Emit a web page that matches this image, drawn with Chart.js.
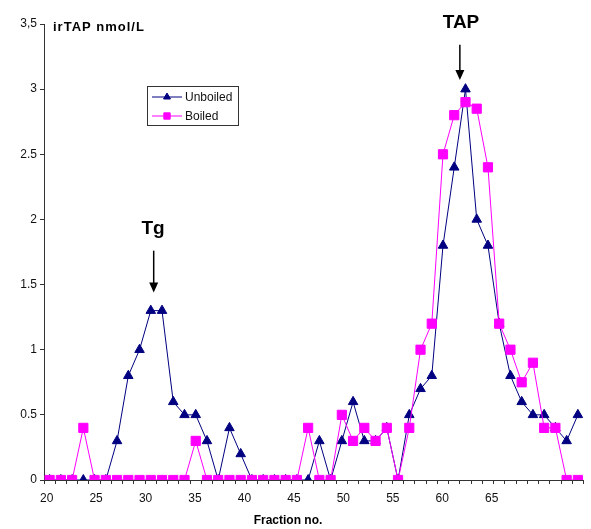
<!DOCTYPE html>
<html>
<head>
<meta charset="utf-8">
<script src="https://cdn.jsdelivr.net/npm/chart.js@4.4.1/dist/chart.umd.min.js"></script>
<style>
  body { margin: 0; background: #fff; }
  #wrap { width: 591px; height: 529px; position: relative; }
</style>
</head>
<body>
<div id="wrap"><canvas id="fractionChart"></canvas></div>
<script>
const fractions = [20, 21, 22, 23, 24, 25, 26, 27, 28, 29, 30, 31, 32, 33, 34, 35,
    36, 37, 38, 39, 40, 41, 42, 43, 44, 45, 46, 47, 48, 49, 50, 51,
    52, 53, 54, 55, 56, 57, 58, 59, 60, 61, 62, 63, 64, 65, 66, 67];
const unboiled = [0, 0, 0, 0, 0, 0, 0.3, 0.8, 1.0, 1.3, 1.3, 0.6, 0.5, 0.5, 0.3, 0,
    0.4, 0.2, 0, 0, 0, 0, 0, 0, 0.3, 0, 0.3, 0.6, 0.3, 0.3, 0.4, 0,
    0.5, 0.7, 0.8, 1.8, 2.4, 3.0, 2.0, 1.8, 1.2, 0.8, 0.6, 0.5, 0.5, 0.4, 0.3, 0.5];
const boiled = [0, 0, 0, 0.4, 0, 0, 0, 0, 0, 0, 0, 0, 0, 0.3, 0, 0,
    0, 0, 0, 0, 0, 0, 0, 0.4, 0, 0, 0.5, 0.3, 0.4, 0.3, 0.4, 0,
    0.4, 1.0, 1.2, 2.5, 2.8, 2.9, 2.85, 2.4, 1.2, 1.0, 0.75, 0.9, 0.4, 0.4, 0, 0];
const xTickLabels = [20, 25, 30, 35, 40, 45, 50, 55, 60, 65];
const yTickLabels = ['0', '0.5', '1', '1.5', '2', '2.5', '3', '3,5'];

const NAVY = '#000080';
const MAGENTA = '#FF00FF';
const INK = '#111';

Chart.defaults.font.family = '"Liberation Sans", Arial, sans-serif';
Chart.defaults.color = INK;

function arrow(ctx, x, yTop, yTip) {
    ctx.save();
    ctx.strokeStyle = '#000';
    ctx.fillStyle = '#000';
    ctx.lineWidth = 1.5;
    ctx.beginPath();
    ctx.moveTo(x, yTop);
    ctx.lineTo(x, yTip - 8);
    ctx.stroke();
    ctx.beginPath();
    ctx.moveTo(x - 4.5, yTip - 10);
    ctx.lineTo(x + 4.5, yTip - 10);
    ctx.lineTo(x, yTip);
    ctx.closePath();
    ctx.fill();
    ctx.restore();
}

const extras = {
    id: 'extras',
    afterDraw(chart) {
        const ctx = chart.ctx;
        const xs = chart.scales.x;
        const ys = chart.scales.y;
        const xl = chart.scales.xLabels;
        const area = chart.chartArea;
        const idx = f => xs.getPixelForValue(f - fractions[0]);

        ctx.save();
        ctx.fillStyle = '#000';
        ctx.textBaseline = 'middle';

        // y unit label
        ctx.font = 'bold 13px "Liberation Sans", Arial, sans-serif';
        ctx.textAlign = 'left';
        ctx.letterSpacing = '1px';
        ctx.fillText('irTAP nmol/L', area.left + 9, ys.getPixelForValue(3.5) + 3);
        ctx.letterSpacing = '0px';

        // peak labels + arrows
        ctx.font = 'bold 19px "Liberation Sans", Arial, sans-serif';
        ctx.textAlign = 'center';
        ctx.fillText('Tg', idx(29.2), ys.getPixelForValue(1.93));
        arrow(ctx, idx(29.26), ys.getPixelForValue(1.76), ys.getPixelForValue(1.44));
        ctx.fillText('TAP', idx(56.6), ys.getPixelForValue(3.5) - 1);
        arrow(ctx, idx(56.5), ys.getPixelForValue(3.34), ys.getPixelForValue(3.07));

        // x axis title
        ctx.font = 'bold 12px "Liberation Sans", Arial, sans-serif';
        ctx.fillText('Fraction no.', xl.getPixelForValue(44.4), chart.height - 8);

        // legend box
        const lx = area.left + 103, ly = area.top + 62, lw = 91, lh = 39;
        ctx.fillStyle = '#fff';
        ctx.fillRect(lx, ly, lw, lh);
        ctx.strokeStyle = '#333';
        ctx.lineWidth = 1;
        ctx.strokeRect(lx + 0.5, ly + 0.5, lw, lh);
        const items = [chart.data.datasets[1], chart.data.datasets[0]];
        items.forEach((ds, i) => {
            const y = ly + 11 + i * 19;
            ctx.strokeStyle = ds.borderColor;
            ctx.beginPath();
            ctx.moveTo(lx + 5, y);
            ctx.lineTo(lx + 35, y);
            ctx.stroke();
            ctx.fillStyle = ds.pointBackgroundColor;
            ctx.strokeStyle = ds.pointBorderColor;
            Chart.helpers.drawPoint(ctx, {
                pointStyle: ds.pointStyle,
                radius: ds.pointStyle === 'rect' ? 4.5 : 4,
                rotation: 0,
                borderWidth: 1
            }, lx + 20, y);
            ctx.fillStyle = INK;
            ctx.textAlign = 'left';
            ctx.font = '12px "Liberation Sans", Arial, sans-serif';
            ctx.fillText(ds.label, lx + 38, y + 1);
        });
        ctx.restore();
    }
};

new Chart(document.getElementById('fractionChart'), {
    type: 'line',
    data: {
        labels: fractions.map(String),
        datasets: [{
            label: 'Boiled',
            data: boiled,
            borderColor: MAGENTA,
            borderWidth: 1,
            tension: 0,
            pointStyle: 'rect',
            pointRadius: 6.5,
            pointBackgroundColor: MAGENTA,
            pointBorderColor: MAGENTA,
            pointBorderWidth: 1,
            order: 0
        }, {
            label: 'Unboiled',
            data: unboiled,
            borderColor: NAVY,
            borderWidth: 1,
            tension: 0,
            pointStyle: 'triangle',
            pointRadius: 5.5,
            pointBackgroundColor: NAVY,
            pointBorderColor: NAVY,
            pointBorderWidth: 1,
            order: 1
        }]
    },
    options: {
        responsive: true,
        maintainAspectRatio: false,
        animation: false,
        layout: {
            padding: { top: 24, right: 6, bottom: 0, left: 0 }
        },
        plugins: {
            legend: { display: false },
            tooltip: { enabled: false }
        },
        scales: {
            x: {
                type: 'category',
                offset: true,
                weight: 0,
                afterFit: s => { s.height = 5; },
                ticks: { display: false },
                grid: {
                    offset: true,
                    drawOnChartArea: false,
                    drawTicks: true,
                    tickLength: 4,
                    color: '#333'
                },
                border: { color: '#333', width: 1 }
            },
            xLabels: {
                type: 'linear',
                position: 'bottom',
                weight: 1,
                min: 19.73,
                max: 74.28,
                afterFit: s => { s.height = 44; },
                afterBuildTicks: s => { s.ticks = xTickLabels.map(v => ({ value: v })); },
                ticks: {
                    padding: 6,
                    autoSkip: false,
                    maxRotation: 0,
                    font: { size: 12 },
                    callback: v => String(v)
                },
                grid: { display: false, drawTicks: false },
                border: { display: false }
            },
            y: {
                min: 0,
                max: 3.5,
                afterFit: s => { s.width = 44; },
                ticks: {
                    stepSize: 0.5,
                    padding: 3,
                    font: { size: 12 },
                    callback: (v, i) => yTickLabels[i]
                },
                grid: {
                    drawOnChartArea: false,
                    drawTicks: true,
                    tickLength: 4,
                    color: '#333'
                },
                border: { color: '#333', width: 1 }
            }
        }
    },
    plugins: [extras]
});
</script>
</body>
</html>
